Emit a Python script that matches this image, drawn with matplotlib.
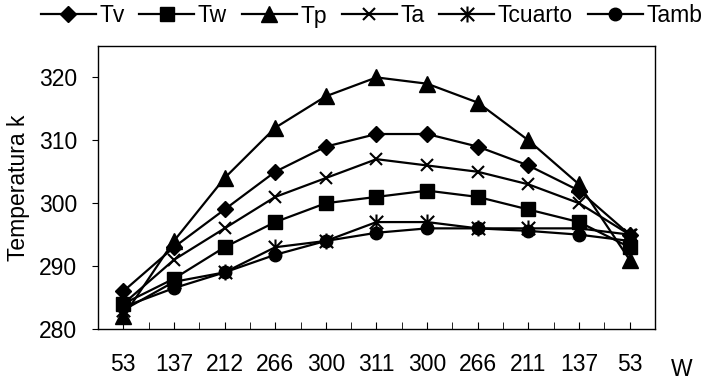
import matplotlib

matplotlib.use("Agg")
import matplotlib.pyplot as plt
import numpy as np
from matplotlib.path import Path

plt.rcParams["font.family"] = ["Liberation Sans", "DejaVu Sans"]

# potencia (W) en cada punto de medida
potencia = ["53", "137", "212", "266", "300", "311", "300", "266", "211", "137", "53"]

tv = [286, 293, 299, 305, 309, 311, 311, 309, 306, 302, 295]
tw = [284, 288, 293, 297, 300, 301, 302, 301, 299, 297, 293]
tp = [282, 294, 304, 312, 317, 320, 319, 316, 310, 303, 291]
ta = [284, 291, 296, 301, 304, 307, 306, 305, 303, 300, 295]
tcuarto = [283, 287.5, 289, 293, 294, 297, 297, 296, 296, 296, 295]
tamb = [283.5, 286.5, 289, 291.8, 294, 295.3, 296, 296, 295.6, 295, 294]

# asterisco estilo Excel: aspa + trazo vertical
star = Path(
    [(-1, -1), (1, 1), (-1, 1), (1, -1), (0, -1.2), (0, 1.2)],
    [Path.MOVETO, Path.LINETO, Path.MOVETO, Path.LINETO, Path.MOVETO, Path.LINETO],
)

series = [
    ("Tv", tv, dict(marker="D", markersize=8)),
    ("Tw", tw, dict(marker="s", markersize=10)),
    ("Tp", tp, dict(marker="^", markersize=11)),
    ("Ta", ta, dict(marker="x", markersize=9, markeredgewidth=1.5)),
    ("Tcuarto", tcuarto, dict(marker=star, markersize=11.5, markeredgewidth=1.5)),
    ("Tamb", tamb, dict(marker="o", markersize=9)),
]

FS = 16.5

fig = plt.figure(figsize=(7.02, 3.83), dpi=100)
ax = fig.add_axes([0.1396, 0.141, 0.7934, 0.739])

x = np.arange(len(potencia))
for name, vals, style in series:
    ax.plot(x, vals, color="black", linewidth=1.6, label=name, **style)

ax.set_xlim(-0.5, len(potencia) - 0.5)
ax.set_ylim(280, 325)
ax.set_yticks([280, 290, 300, 310, 320])
ax.set_xticks(x)
ax.set_xticklabels(potencia)
ax.set_xticks(np.arange(-0.5, len(potencia), 1.0), minor=True)
ax.tick_params(axis="x", which="both", direction="in", length=5, pad=17.5, labelsize=FS)
ax.tick_params(axis="y", direction="out", length=4, pad=11, labelsize=FS)
for s in ax.spines.values():
    s.set_linewidth(1.0)

fig.text(19 / 702, 1 - 188 / 383, "Temperatura k", fontsize=FS, rotation=90,
         ha="center", va="center")
fig.text(682 / 702, 1 - 370 / 383, "W", fontsize=FS, ha="center", va="center")

fig.legend(
    loc="center left",
    bbox_to_anchor=(0.058, 1 - 16 / 383),
    ncol=6,
    frameon=False,
    fontsize=FS,
    handlelength=2.4,
    handletextpad=0.15,
    columnspacing=0.65,
    borderpad=0,
    borderaxespad=0,
)

fig.savefig("out.png", dpi=100)
